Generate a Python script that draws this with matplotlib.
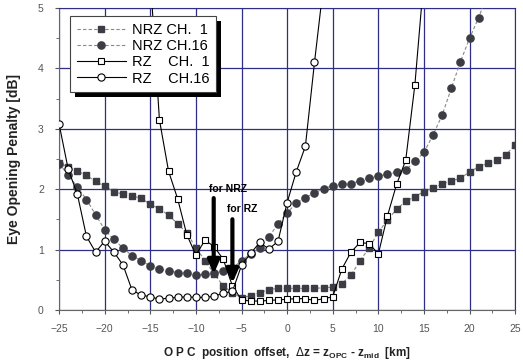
import numpy as np
import matplotlib
matplotlib.use("Agg")
import matplotlib.pyplot as plt
from matplotlib.patches import Rectangle

plt.rcParams['font.family'] = ['Liberation Sans', 'DejaVu Sans']

# ---- data ----
x_nrz1 = list(range(-25, 26))
y_nrz1 = [2.44, 2.37, 2.30, 2.23, 2.13, 2.05, 1.96, 1.92, 1.89, 1.85,
          1.75, 1.68, 1.57, 1.43, 1.28, 1.03, 0.82, 0.60, 0.40, 0.29,
          0.20, 0.24, 0.29, 0.34, 0.36, 0.36, 0.36, 0.36, 0.36, 0.37,
          0.38, 0.44, 0.58, 0.82, 1.03, 1.29, 1.49, 1.67, 1.80, 1.88,
          1.96, 2.02, 2.09, 2.14, 2.18, 2.29, 2.37, 2.43, 2.48, 2.57, 2.74]

x_nrz16 = list(range(-25, 23))
y_nrz16 = [2.42, 2.24, 2.04, 1.83, 1.58, 1.33, 1.17, 1.03, 0.90, 0.82,
           0.73, 0.68, 0.65, 0.62, 0.61, 0.58, 0.59, 0.61, 0.64, 0.69,
           0.82, 0.93, 1.03, 1.21, 1.43, 1.61, 1.77, 1.86, 1.94, 2.01,
           2.06, 2.09, 2.09, 2.14, 2.18, 2.22, 2.25, 2.28, 2.32, 2.46,
           2.61, 2.90, 3.23, 3.67, 4.11, 4.50, 4.84, 5.25]

x_rz1 = list(range(-15, 16))
y_rz1 = [5.50, 3.15, 2.30, 1.84, 1.25, 0.91, 1.16, 1.05, 0.84, 0.40,
         0.17, 0.15, 0.15, 0.16, 0.17, 0.18, 0.19, 0.19, 0.16, 0.19,
         0.22, 0.68, 0.96, 1.12, 1.10, 0.93, 1.56, 2.08, 2.48, 3.72, 5.50]

x_rz16 = list(range(-25, 5))
y_rz16 = [3.08, 2.33, 1.92, 1.22, 0.96, 1.14, 0.96, 0.75, 0.33, 0.25,
          0.22, 0.18, 0.20, 0.21, 0.22, 0.21, 0.21, 0.23, 0.28, 0.31,
          0.74, 0.94, 1.12, 1.01, 1.14, 1.78, 2.29, 2.71, 4.10, 5.40]

labels = ['NRZ CH.  1', 'NRZ CH.16', 'RZ    CH.  1', 'RZ    CH.16']

# ---- figure ----
fig = plt.figure(figsize=(5.23, 3.64), dpi=100)
ax = fig.add_axes([0.113, 0.148, 0.872, 0.830])

navy = '#2e2e86'
dark = '#3c3c44'

ax.plot(x_nrz1, y_nrz1, color='#888888', lw=0.8, ls=(0, (3, 2)),
        marker='s', ms=4.8, mfc=dark, mec=dark, label=labels[0], zorder=3)
ax.plot(x_nrz16, y_nrz16, color='#888888', lw=0.8, ls=(0, (3, 2)),
        marker='o', ms=5.2, mfc=dark, mec=dark, label=labels[1], zorder=3)
ax.plot(x_rz1, y_rz1, color='black', lw=0.8,
        marker='s', ms=4.8, mfc='white', mec='black', mew=0.8,
        label=labels[2], zorder=4)
ax.plot(x_rz16, y_rz16, color='black', lw=0.8,
        marker='o', ms=5.2, mfc='white', mec='black', mew=0.8,
        label=labels[3], zorder=4)

ax.set_xlim(-25, 25)
ax.set_ylim(0, 5)
ax.set_xticks(np.arange(-25, 26, 5))
ax.set_yticks(np.arange(0, 6, 1))
ax.set_xticks(np.arange(-22.5, 25, 5), minor=True)
ax.set_yticks(np.arange(0.5, 5, 1), minor=True)
ax.tick_params(which='both', direction='out', colors='#555555',
               labelsize=7.5, length=3)
ax.tick_params(axis='x', which='major', pad=7)
ax.tick_params(axis='y', which='major', pad=8)
ax.tick_params(which='minor', length=2)
ax.grid(True, which='major', color=navy, lw=0.9)
ax.set_axisbelow(True)
for side in ['top', 'right']:
    ax.spines[side].set_color(navy)
for side in ['left', 'bottom']:
    ax.spines[side].set_color('#666666')

ax.set_ylabel('Eye Opening Penalty [dB]', fontsize=10, fontweight='bold',
              color='#222222', labelpad=12)
ax.set_xlabel(r'O P C  position  offset,  $\Delta$z = z$_{\mathregular{OPC}}$ - z$_{\mathregular{mid}}$  [km]',
              fontsize=8.5, fontweight='bold', color='#222222', labelpad=8)

# arrows
ax.annotate('', xy=(-8.05, 0.55), xytext=(-8.05, 1.9),
            arrowprops=dict(arrowstyle='-|>,head_width=0.35,head_length=0.8',
                            color='black', lw=3), zorder=6)
ax.annotate('', xy=(-6.0, 0.40), xytext=(-6.0, 1.55),
            arrowprops=dict(arrowstyle='-|>,head_width=0.35,head_length=0.8',
                            color='black', lw=3), zorder=6)
ax.text(-6.5, 2.0, 'for NRZ', fontsize=7.5, fontweight='bold',
        ha='center', va='center', zorder=6)
ax.text(-4.9, 1.67, 'for RZ', fontsize=7.5, fontweight='bold',
        ha='center', va='center', zorder=6)

leg = ax.legend(loc='upper left', bbox_to_anchor=(0.024, 0.972), fontsize=10.5,
                frameon=True, fancybox=False, framealpha=1, borderpad=0.45,
                labelspacing=0.15, handlelength=3.4, handletextpad=0.4,
                borderaxespad=0)
leg.get_frame().set_edgecolor('#444444')
leg.get_frame().set_linewidth(0.8)
leg.set_zorder(10)

# solid black drop shadow behind the legend box
fig.canvas.draw()
bb = leg.get_window_extent().transformed(fig.transFigure.inverted())
dx, dy = 5 / 523, -5 / 364
ax.add_patch(Rectangle((bb.x0 + dx, bb.y0 + dy), bb.width, bb.height,
                       transform=fig.transFigure, facecolor='black',
                       edgecolor='none', zorder=9, clip_on=False))

fig.savefig('out.png', dpi=100)
